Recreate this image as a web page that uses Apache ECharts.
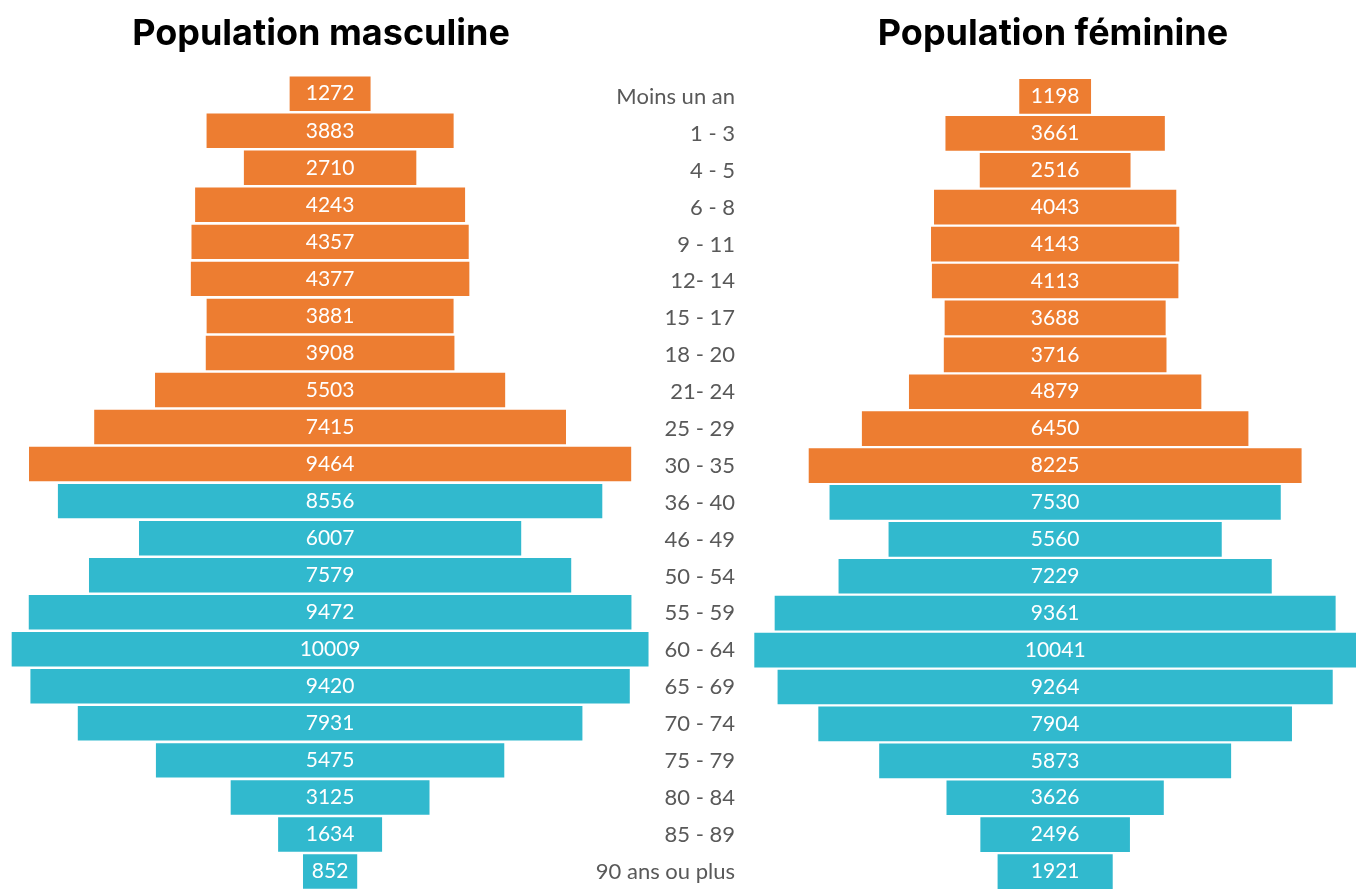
<!DOCTYPE html>
<html><head><meta charset="utf-8">
<script src="https://cdn.jsdelivr.net/npm/echarts@6/dist/echarts.min.js"></script>
<style>html,body{margin:0;padding:0;background:#fff}#c{width:1356px;height:890px}</style>
</head><body><div id="c"></div>
<script>
const categories = ["Moins un an","1 - 3","4 - 5","6 - 8","9 - 11","12- 14","15 - 17","18 - 20","21- 24","25 - 29","30 - 35","36 - 40","46 - 49","50 - 54","55 - 59","60 - 64","65 - 69","70 - 74","75 - 79","80 - 84","85 - 89","90 ans ou plus"];
const male = [1272,3883,2710,4243,4357,4377,3881,3908,5503,7415,9464,8556,6007,7579,9472,10009,9420,7931,5475,3125,1634,852];
const female = [1198,3661,2516,4043,4143,4113,3688,3716,4879,6450,8225,7530,5560,7229,9361,10041,9264,7904,5873,3626,2496,1921];
const groups = ["a","a","a","a","a","a","a","a","a","a","a","b","b","b","b","b","b","b","b","b","b","b"];
const titles = ["Population masculine","Population féminine"];

const COL = {a:'#ED7D31', b:'#31B9CE'};
const MAXM = 10200, MAXF = 10041;
const FONT = 'Lato, "Open Sans", sans-serif';

function pad(vals, max){ return vals.map(v => (max - v)/2); }
function bars(vals){ return vals.map((v,i)=>({value:v, itemStyle:{color:COL[groups[i]]}})); }

const chart = echarts.init(document.getElementById('c'), null, {renderer:'canvas'});
const labelCommon = {show:true, position:'inside', color:'#fff', fontSize:21, fontFamily:FONT};
const titleStyle = {fontSize:36, fontWeight:'bold', color:'#000', fontFamily:'Inter, Roboto, sans-serif'};
chart.setOption({
  animation:false,
  title:[
    {text:titles[0], left:316, top:11, textAlign:'center', textStyle:titleStyle},
    {text:titles[1], left:1048, top:11, textAlign:'center', textStyle:titleStyle}
  ],
  grid:[
    {left:5.6, width:649, top:75.2, height:825},
    {left:754.3, width:609.5, top:78, height:819},
    {left:735, width:1, top:78.4, height:820}
  ],
  xAxis:[
    {gridIndex:0, type:'value', min:0, max:MAXM, show:false},
    {gridIndex:1, type:'value', min:0, max:MAXF, show:false},
    {gridIndex:2, type:'value', min:0, max:1, show:false}
  ],
  yAxis:[
    {gridIndex:0, type:'category', data:categories, inverse:true, show:false},
    {gridIndex:1, type:'category', data:categories, inverse:true, show:false},
    {gridIndex:2, type:'category', data:categories, inverse:true, position:'left',
     axisLine:{show:false}, axisTick:{show:false}, splitLine:{show:false},
     axisLabel:{margin:0, color:'#595959', fontSize:22, fontFamily:FONT}}
  ],
  series:[
    {type:'bar', xAxisIndex:0, yAxisIndex:0, stack:'m', data:pad(male,MAXM), itemStyle:{color:'transparent'}, barCategoryGap:'7%', silent:true},
    {type:'bar', xAxisIndex:0, yAxisIndex:0, stack:'m', data:bars(male), label:labelCommon, barCategoryGap:'7%'},
    {type:'bar', xAxisIndex:1, yAxisIndex:1, stack:'f', data:pad(female,MAXF), itemStyle:{color:'transparent'}, barCategoryGap:'6%', silent:true},
    {type:'bar', xAxisIndex:1, yAxisIndex:1, stack:'f', data:bars(female), label:labelCommon, barCategoryGap:'6%'}
  ]
});
</script></body></html>
